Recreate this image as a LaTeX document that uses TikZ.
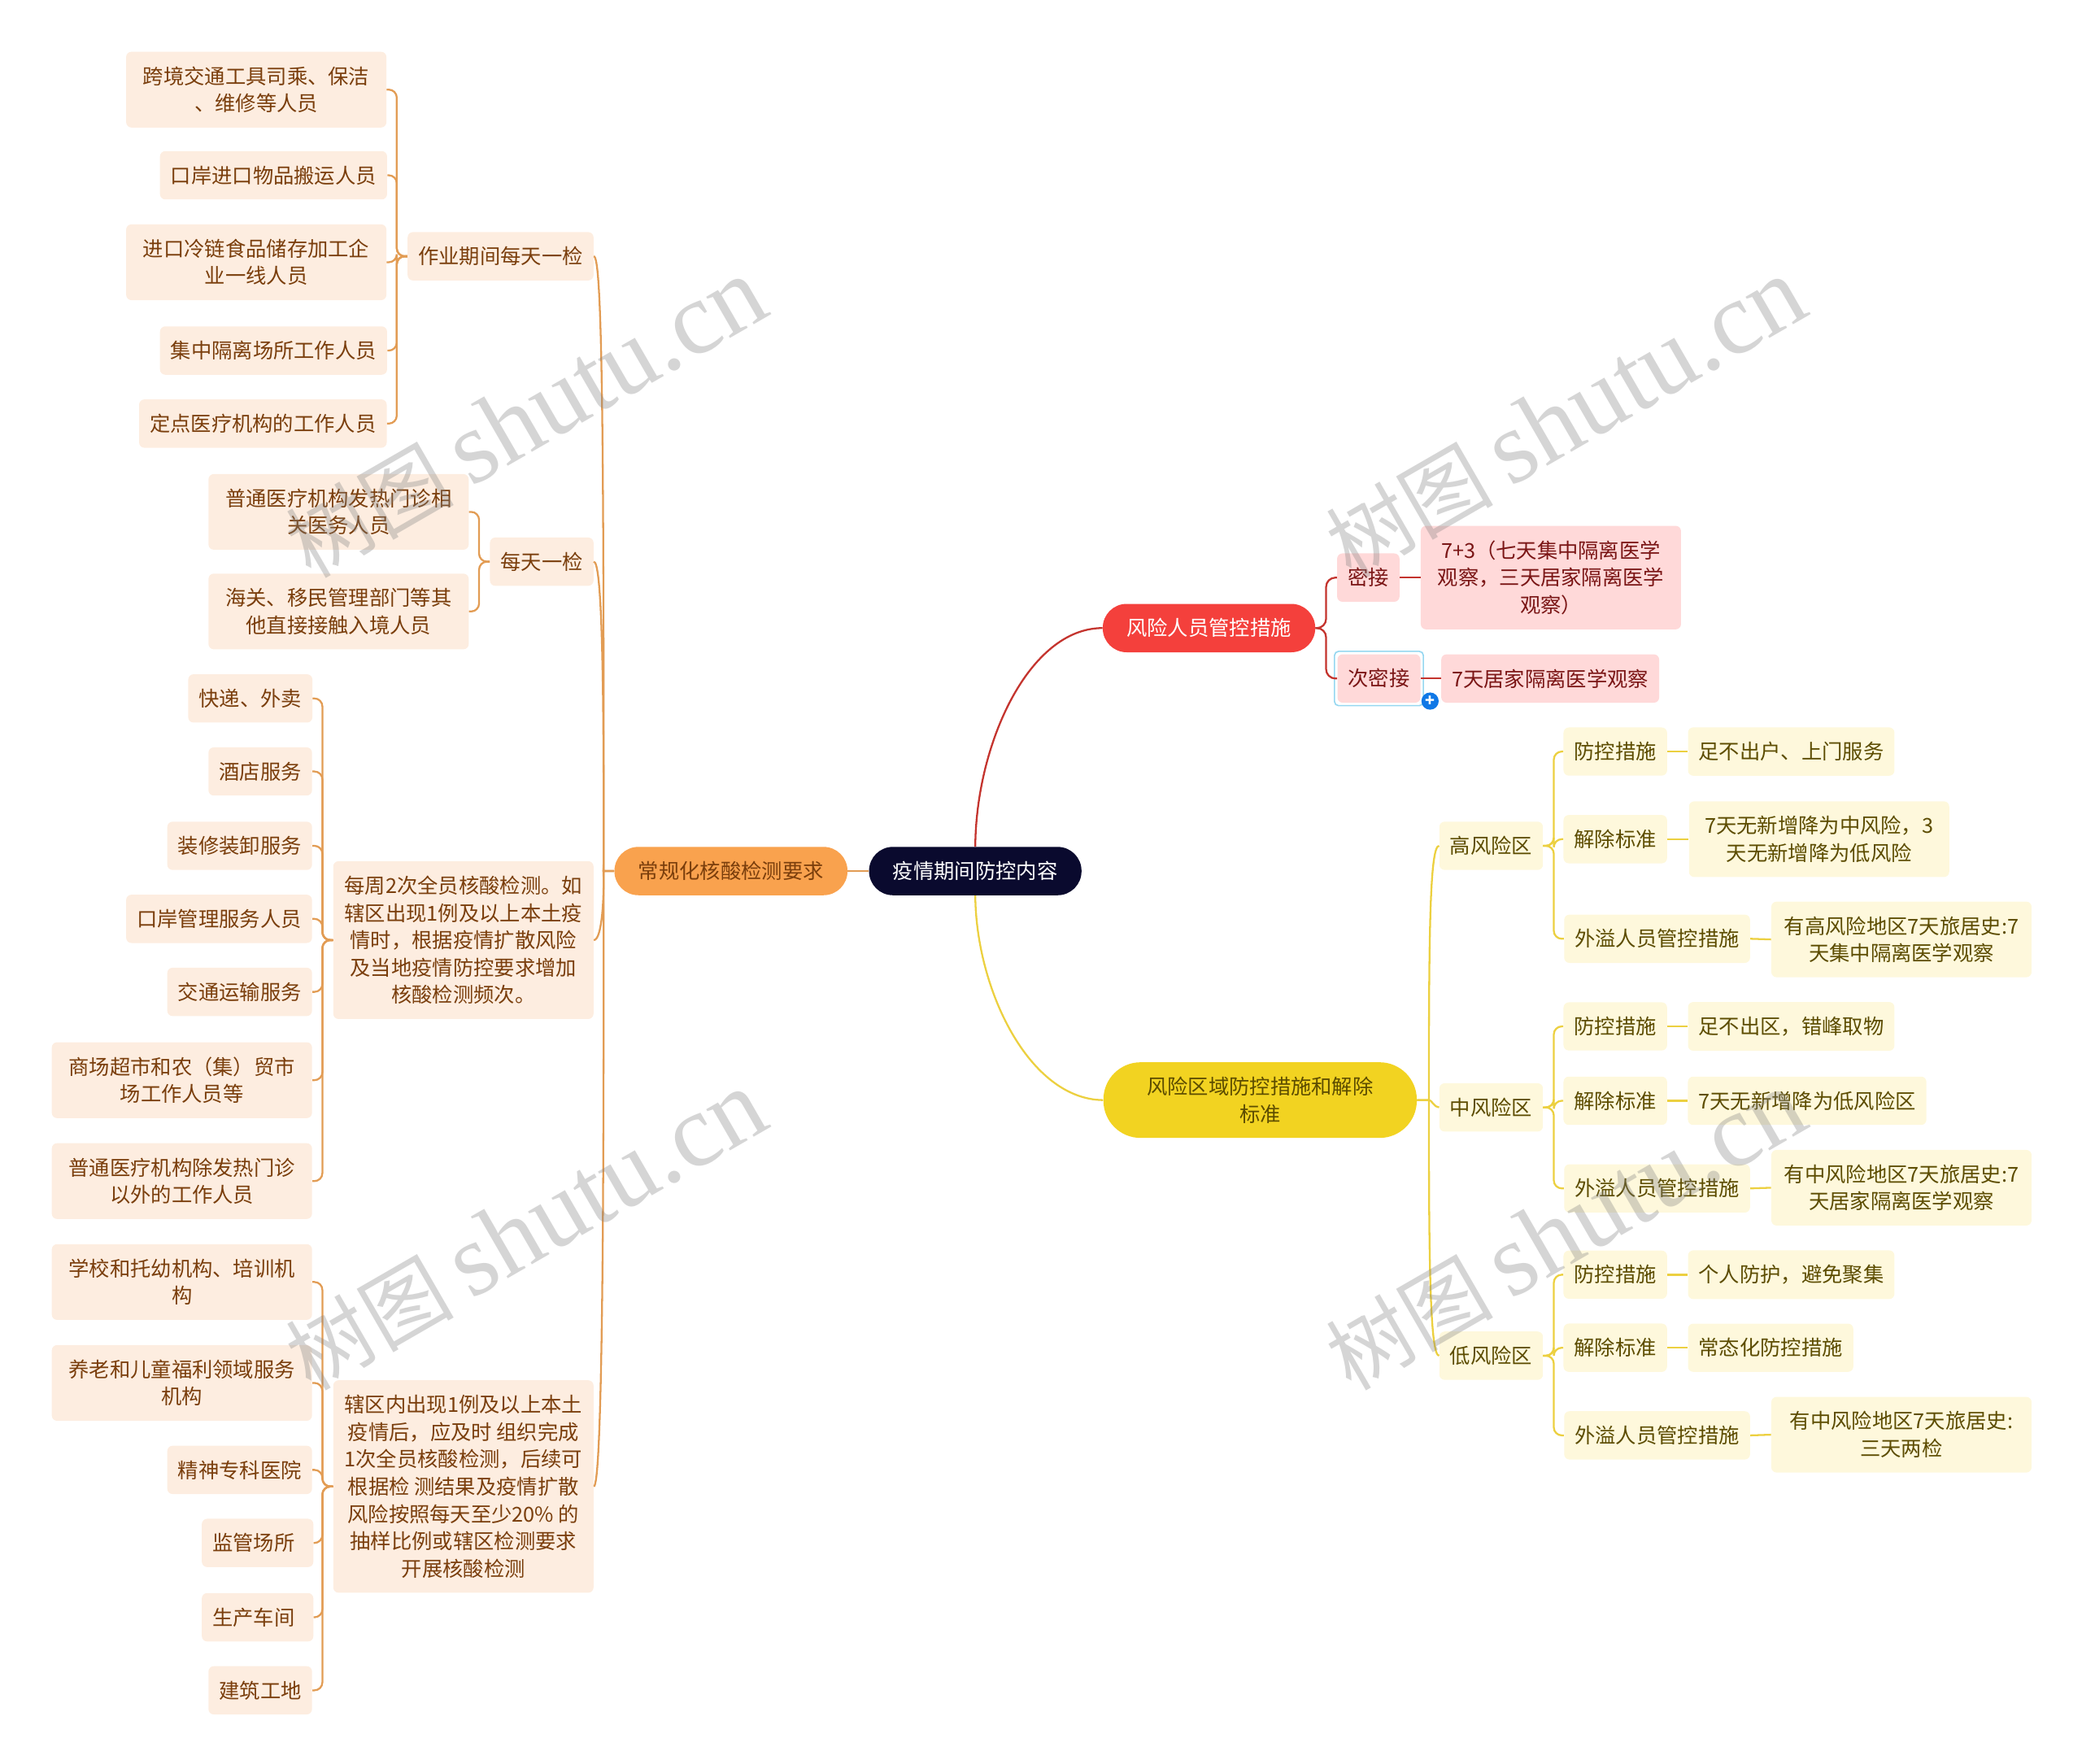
\documentclass[tikz,border=0pt]{standalone}
\usepackage{fontspec}
\setmainfont{Noto Sans CJK SC}
\newfontfamily\markfont{Liberation Serif}
\usetikzlibrary{fit}
\definecolor{rootfill}{RGB}{10,10,46}
\definecolor{testfill}{RGB}{249,162,78}
\definecolor{peoplefill}{RGB}{244,64,60}
\definecolor{zonefill}{RGB}{242,211,33}
\definecolor{testbox}{RGB}{253,237,224}
\definecolor{peoplebox}{RGB}{255,217,217}
\definecolor{zonebox}{RGB}{254,248,220}
\definecolor{testline}{RGB}{226,156,84}
\definecolor{peopleline}{RGB}{196,52,46}
\definecolor{zoneline}{RGB}{236,208,64}
\definecolor{testtext}{RGB}{122,62,12}
\definecolor{peopletext}{RGB}{122,21,21}
\definecolor{zonetext}{RGB}{92,76,0}
\definecolor{selcol}{RGB}{150,215,240}
\definecolor{pluscol}{RGB}{16,120,230}
\tikzset{
  base/.style={align=center,inner xsep=8pt,inner ysep=11pt,minimum height=36pt,rounded corners=4pt,font=\fontsize{15.5}{20.6}\selectfont},
  testv/.style={base,fill=testbox,text=testtext},
  peoplev/.style={base,fill=peoplebox,text=peopletext},
  zonev/.style={base,fill=zonebox,text=zonetext},
  wide/.style={minimum width=196pt},
  pill/.style={base,inner xsep=18pt,rounded corners=18pt},
  selbox/.style={draw=selcol,line width=1pt,rounded corners=3pt,inner sep=2pt},
  plusdot/.style={circle,fill=pluscol,text=white,inner sep=0pt,minimum size=13pt,font=\fontsize{12}{12}\selectfont\bfseries},
  elbow/.style={to path={-- ++(#1,0) |- (\tikztotarget)}},
  curvel/.style={line width=1.4pt},
  testl/.style={testline,curvel,rounded corners=6pt},
  peoplel/.style={peopleline,curvel,rounded corners=7pt},
  zonel/.style={zoneline,curvel,rounded corners=6pt},
  wmark/.style={rotate=30,text=gray,opacity=0.33,inner sep=0pt},
}
\newcommand{\wmtext}{{\fontsize{63}{63}\selectfont 树图}\hspace{13pt}{\markfont\fontsize{78}{78}\selectfont shutu.cn}}
\begin{document}
\begin{tikzpicture}[x=1pt,y=-1pt]
  \useasboundingbox (0,0) rectangle (1568,1328.5);
  % centre
  \node[pill,fill=rootfill,text=white] (root) at (734.5,656) {疫情期间防控内容};
  \node[pill,fill=testfill,text=testtext] (testing) at (550.5,656) {常规化核酸检测要求};
  \node[pill,fill=peoplefill,text=white] (people) at (910.5,473) {风险人员管控措施};
  \node[pill,fill=zonefill,text=zonetext,minimum width=236pt,rounded corners=28pt] (zones) at (949,828.5) {风险区域防控措施和解除\\标准};
  % right, people
  \node[peoplev] (mijie) at (1030.5,435) {密接};
  \node[peoplev,wide] (mijieq) at (1168,435) {7+3（七天集中隔离医学\\观察，三天居家隔离医学\\观察）};
  \node[peoplev] (cimi) at (1038.5,511) {次密接};
  \node[peoplev] (cimiq) at (1167.5,511) {7天居家隔离医学观察};
  \node[selbox,fit=(cimi)] (cimisel) {};
  \node[plusdot] (cimiplus) at (1077,528) {+};
  % right, zones
  \node[zonev] (high) at (1123,637) {高风险区};
  \node[zonev] (higha) at (1216.5,566) {防控措施};
  \node[zonev] (highaq) at (1349,566) {足不出户、上门服务};
  \node[zonev] (highb) at (1216.5,632) {解除标准};
  \node[zonev,wide] (highbq) at (1370,632) {7天无新增降为中风险，3\\天无新增降为低风险};
  \node[zonev] (highc) at (1248,707) {外溢人员管控措施};
  \node[zonev,wide] (highcq) at (1432,707.5) {有高风险地区7天旅居史:7\\天集中隔离医学观察};
  \node[zonev] (mid) at (1123,834) {中风险区};
  \node[zonev] (mida) at (1216.5,773) {防控措施};
  \node[zonev] (midaq) at (1349,773) {足不出区，错峰取物};
  \node[zonev] (midb) at (1216.5,829) {解除标准};
  \node[zonev] (midbq) at (1361,829) {7天无新增降为低风险区};
  \node[zonev] (midc) at (1248,895) {外溢人员管控措施};
  \node[zonev,wide] (midcq) at (1432,894.5) {有中风险地区7天旅居史:7\\天居家隔离医学观察};
  \node[zonev] (low) at (1123,1021) {低风险区};
  \node[zonev] (lowa) at (1216.5,960) {防控措施};
  \node[zonev] (lowaq) at (1349,960) {个人防护，避免聚集};
  \node[zonev] (lowb) at (1216.5,1015) {解除标准};
  \node[zonev] (lowbq) at (1333.5,1015) {常态化防控措施};
  \node[zonev] (lowc) at (1248,1081) {外溢人员管控措施};
  \node[zonev,wide] (lowcq) at (1432,1080.5) {有中风险地区7天旅居史:\\三天两检};
  % left, testing
  \node[testv] (work) at (377,193) {作业期间每天一检};
  \node[testv,wide] (worka) at (193,67.5) {跨境交通工具司乘、保洁\\、维修等人员};
  \node[testv] (workb) at (206,132) {口岸进口物品搬运人员};
  \node[testv,wide] (workc) at (193,197.5) {进口冷链食品储存加工企\\业一线人员};
  \node[testv] (workd) at (206,264) {集中隔离场所工作人员};
  \node[testv] (worke) at (198,319) {定点医疗机构的工作人员};
  \node[testv] (daily) at (408,423) {每天一检};
  \node[testv,wide] (dailya) at (255,385.5) {普通医疗机构发热门诊相\\关医务人员};
  \node[testv,wide] (dailyb) at (255,460.5) {海关、移民管理部门等其\\他直接接触入境人员};
  \node[testv,wide] (twice) at (349,708) {每周2次全员核酸检测。如\\辖区出现1例及以上本土疫\\情时，根据疫情扩散风险\\及当地疫情防控要求增加\\核酸检测频次。};
  \node[testv] (twicea) at (188.5,526) {快递、外卖};
  \node[testv] (twiceb) at (196,581) {酒店服务};
  \node[testv] (twicec) at (180.5,637) {装修装卸服务};
  \node[testv] (twiced) at (165,692) {口岸管理服务人员};
  \node[testv] (twicee) at (180.5,747) {交通运输服务};
  \node[testv,wide] (twicef) at (137,813.5) {商场超市和农（集）贸市\\场工作人员等};
  \node[testv,wide] (twiceg) at (137,889.5) {普通医疗机构除发热门诊\\以外的工作人员};
  \node[testv,wide] (local) at (349,1119.5) {辖区内出现1例及以上本土\\疫情后，应及时 组织完成\\1次全员核酸检测，后续可\\根据检 测结果及疫情扩散\\风险按照每天至少20\% 的\\抽样比例或辖区检测要求\\开展核酸检测};
  \node[testv,wide] (locala) at (137,965.5) {学校和托幼机构、培训机\\构};
  \node[testv,wide] (localb) at (137,1041.5) {养老和儿童福利领域服务\\机构};
  \node[testv] (localc) at (180.5,1107) {精神专科医院};
  \node[testv,minimum width=82pt] (locald) at (194,1162) {监管场所\hspace*{6pt}};
  \node[testv,minimum width=82pt] (locale) at (194,1218) {生产车间\hspace*{6pt}};
  \node[testv] (localf) at (196,1273) {建筑工地};
  % main branches
  \draw[peopleline,curvel] (root.north) .. controls (735,560) and (775,473) .. (people.west);
  \draw[zoneline,curvel] (root.south) .. controls (735,745) and (775,828) .. (zones.west);
  \draw[testline,curvel] (root.west) -- (testing.east);
  % people links
  \draw[peoplel] (people.east) to[elbow=8] (mijie.west);
  \draw[peoplel] (people.east) to[elbow=8] (cimi.west);
  \draw[peoplel] (mijie.east) -- (mijieq.west);
  \draw[peoplel] (cimi.east) -- (cimiq.west);
  % zone links
  \draw[zoneline,curvel] (zones.east) -- ++(9,0) .. controls (1076,700) and (1077,637) .. (high.west);
  \draw[zoneline,curvel] (zones.east) -- ++(9,0) .. controls (1078,828) and (1080,834) .. (mid.west);
  \draw[zoneline,curvel] (zones.east) -- ++(9,0) .. controls (1076,950) and (1077,1021) .. (low.west);
  \draw[zonel] (high.east) to[elbow=8] (higha.west);
  \draw[zonel] (high.east) to[elbow=8] (highb.west);
  \draw[zonel] (high.east) to[elbow=8] (highc.west);
  \draw[zonel] (mid.east) to[elbow=8] (mida.west);
  \draw[zonel] (mid.east) to[elbow=8] (midb.west);
  \draw[zonel] (mid.east) to[elbow=8] (midc.west);
  \draw[zonel] (low.east) to[elbow=8] (lowa.west);
  \draw[zonel] (low.east) to[elbow=8] (lowb.west);
  \draw[zonel] (low.east) to[elbow=8] (lowc.west);
  \draw[zonel] (higha.east) -- (highaq.west);
  \draw[zonel] (highb.east) -- (highbq.west);
  \draw[zonel] (highc.east) -- (highcq.west);
  \draw[zonel] (mida.east) -- (midaq.west);
  \draw[zonel] (midb.east) -- (midbq.west);
  \draw[zonel] (midc.east) -- (midcq.west);
  \draw[zonel] (lowa.east) -- (lowaq.west);
  \draw[zonel] (lowb.east) -- (lowbq.west);
  \draw[zonel] (lowc.east) -- (lowcq.west);
  % testing links
  \draw[testline,curvel] (testing.west) -- ++(-8,0) .. controls (455,300) and (453,193) .. (work.east);
  \draw[testline,curvel] (testing.west) -- ++(-8,0) .. controls (455,500) and (453,423) .. (daily.east);
  \draw[testline,curvel] (testing.west) -- ++(-8,0) .. controls (455,680) and (453,708) .. (twice.east);
  \draw[testline,curvel] (testing.west) -- ++(-8,0) .. controls (455,950) and (453,1119) .. (local.east);
  \draw[testl] (work.west) to[elbow=-8] (worka.east);
  \draw[testl] (work.west) to[elbow=-8] (workb.east);
  \draw[testl] (work.west) to[elbow=-8] (workc.east);
  \draw[testl] (work.west) to[elbow=-8] (workd.east);
  \draw[testl] (work.west) to[elbow=-8] (worke.east);
  \draw[testl] (daily.west) to[elbow=-8] (dailya.east);
  \draw[testl] (daily.west) to[elbow=-8] (dailyb.east);
  \draw[testl] (twice.west) to[elbow=-8] (twicea.east);
  \draw[testl] (twice.west) to[elbow=-8] (twiceb.east);
  \draw[testl] (twice.west) to[elbow=-8] (twicec.east);
  \draw[testl] (twice.west) to[elbow=-8] (twiced.east);
  \draw[testl] (twice.west) to[elbow=-8] (twicee.east);
  \draw[testl] (twice.west) to[elbow=-8] (twicef.east);
  \draw[testl] (twice.west) to[elbow=-8] (twiceg.east);
  \draw[testl] (local.west) to[elbow=-8] (locala.east);
  \draw[testl] (local.west) to[elbow=-8] (localb.east);
  \draw[testl] (local.west) to[elbow=-8] (localc.east);
  \draw[testl] (local.west) to[elbow=-8] (locald.east);
  \draw[testl] (local.west) to[elbow=-8] (locale.east);
  \draw[testl] (local.west) to[elbow=-8] (localf.east);
  % watermarks
  \node[wmark] (marka) at (396,315) {\wmtext};
  \node[wmark] (markb) at (1179,315) {\wmtext};
  \node[wmark] (markc) at (396,927) {\wmtext};
  \node[wmark] (markd) at (1179,927) {\wmtext};
\end{tikzpicture}
\end{document}
